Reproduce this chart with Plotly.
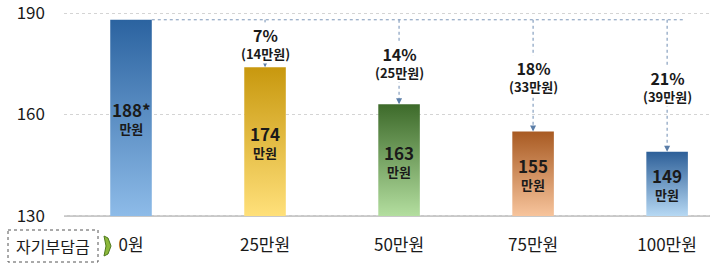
import plotly.graph_objects as go

categories = ["0원", "25만원", "50만원", "75만원", "100만원"]
values = [188, 174, 163, 155, 149]
value_labels = ["188*", "174", "163", "155", "149"]
pct_labels = ["", "7%", "14%", "18%", "21%"]
amt_labels = ["", "(14만원)", "(25만원)", "(33만원)", "(39만원)"]
top_colors = ["#2b63a0", "#c8980e", "#3d6a2a", "#a85a22", "#2d5f98"]
bottom_colors = ["#8dbbe8", "#ffe07a", "#b3de9f", "#f7c49c", "#b6d8f3"]

Y_MIN, Y_MAX = 130, 190
BAR_W = 0.31
FONT = "Noto Sans CJK KR"

fig = go.Figure()

# bars with vertical gradient
for i, v in enumerate(values):
    x0, x1 = i - BAR_W / 2, i + BAR_W / 2
    fig.add_trace(go.Scatter(
        x=[x0, x1, x1, x0, x0], y=[Y_MIN, Y_MIN, v, v, Y_MIN],
        mode="lines", line=dict(width=0), fill="toself",
        fillgradient=dict(type="vertical", start=Y_MIN, stop=v,
                          colorscale=[[0, bottom_colors[i]], [1, top_colors[i]]]),
        hoverinfo="skip", showlegend=False,
    ))

ref = values[0]
# horizontal dotted reference line
fig.add_shape(type="line", x0=0 + BAR_W / 2, x1=len(values) - 1 + 0.12, y0=ref, y1=ref,
              line=dict(color="#7d97b8", width=1, dash="dot"), layer="above")

annotations = []
for i, v in enumerate(values):
    mid = (Y_MIN + v) / 2
    annotations.append(dict(
        x=i, y=mid, yanchor="middle", showarrow=False,
        text=f"<b><span style='font-size:17px'>{value_labels[i]}</span><br>만원</b>",
        font=dict(size=13, color="#1a1a1a", family=FONT)))
    if i > 0:
        fig.add_shape(type="line", x0=i, x1=i, y0=ref, y1=v + 1.2,
                      line=dict(color="#6f8db3", width=1, dash="dot"), layer="above")
        annotations.append(dict(x=i, y=v, ax=i, ay=v + 1.5, axref="x", ayref="y",
                                text="", showarrow=True, arrowhead=2, arrowsize=1.2,
                                arrowwidth=1, arrowcolor="#5b7ea8"))
        lm = (ref + v) / 2
        annotations.append(dict(
            x=i, y=lm, yanchor="middle", showarrow=False, bgcolor="white", borderpad=0,
            text=f"<b><span style='font-size:16px'>{pct_labels[i]}</span><br>{amt_labels[i]}</b>",
            font=dict(size=13, color="#1a1a1a", family=FONT)))


def px(x):
    return (x - 64) / 646


def py(y):
    return (217 - y) / 205


# left label box
annotations.append(dict(xref="paper", yref="paper", x=px(53), y=py(246),
                        xanchor="center", yanchor="middle",
                        text="자기부담금", showarrow=False,
                        font=dict(size=16, color="#1a1a1a", family=FONT)))
fig.add_shape(type="rect", xref="paper", yref="paper",
              x0=px(8), x1=px(98), y0=py(230), y1=py(262),
              line=dict(color="#555555", width=1, dash="dot"))
# small arrow icon
path = (f"M {px(104)},{py(236)} L {px(108)},{py(238)} L {px(111)},{py(246)} "
        f"L {px(108)},{py(254)} L {px(104)},{py(256)} L {px(106)},{py(246)} Z")
fig.add_shape(type="path", xref="paper", yref="paper", path=path,
              fillcolor="#8cb83a", line=dict(color="#4f7a1e", width=1))

fig.update_layout(
    width=710, height=270,
    margin=dict(l=64, r=0, t=12, b=53),
    paper_bgcolor="white", plot_bgcolor="white",
    annotations=annotations,
    xaxis=dict(range=[-0.5, 4.32], tickmode="array", tickvals=list(range(len(categories))),
               ticktext=categories, showgrid=False, zeroline=False, showline=False,
               ticks="", ticklabelstandoff=16,
               tickfont=dict(size=17, color="#1a1a1a", family=FONT)),
    yaxis=dict(range=[Y_MIN - 0.3, Y_MAX + 0.3], tickvals=[130, 160, 190], showgrid=True,
               gridcolor="#d4d4d4", griddash="dot", gridwidth=1, zeroline=False,
               showline=False, ticks="", ticklabelstandoff=18, ticklabeloverflow="allow",
               tickfont=dict(size=17, color="#1a1a1a", family=FONT)),
)
fig.add_shape(type="line", xref="paper", yref="y", x0=0, x1=1, y0=Y_MIN, y1=Y_MIN,
              line=dict(color="#c8c8c8", width=2), layer="below")

fig.write_html("out.html")
